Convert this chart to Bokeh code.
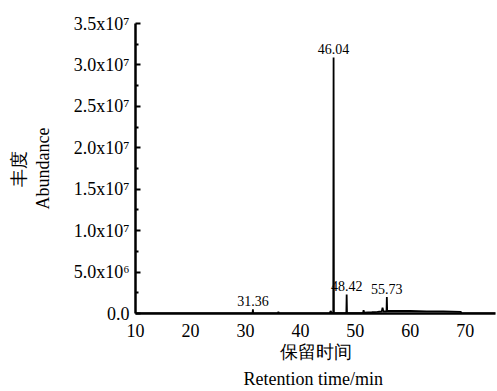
from bokeh.plotting import figure
from bokeh.models import Range1d, FixedTicker, ColumnDataSource
from bokeh.embed import file_html
from bokeh.resources import INLINE
from bokeh.core.properties import value

# Chromatogram trace (retention time in min, abundance)
rt = [10.0, 20.0, 30.0, 31.30, 31.36, 31.42, 35.9, 36.0, 36.1, 45.3, 45.5, 45.7,
      45.98, 46.04, 46.10, 48.36, 48.42, 48.48, 51.4, 51.5, 51.6, 53.0, 54.0,
      54.8, 54.95, 55.1, 55.67, 55.73, 55.79, 57.0, 60.0, 63.0, 66.0, 69.2, 69.3, 75.5]
abundance = [0.0, 0.0, 0.0, 0.0, 0.5e6, 0.0, 0.0, 0.2e6, 0.0, 0.0, 0.3e6, 0.05e6,
             0.05e6, 3.09e7, 0.05e6, 0.05e6, 2.3e6, 0.05e6, 0.05e6, 0.4e6, 0.1e6, 0.15e6, 0.2e6,
             0.25e6, 0.7e6, 0.25e6, 0.25e6, 2.0e6, 0.3e6, 0.3e6, 0.3e6, 0.25e6, 0.25e6, 0.2e6, 0.0, 0.0]

# Peak annotations
peak_labels = ["31.36", "46.04", "48.42", "55.73"]
peak_rt = [31.36, 46.04, 48.42, 55.73]
peak_h = [0.5e6, 3.09e7, 2.3e6, 2.0e6]

x_ticks = [10, 20, 30, 40, 50, 60, 70]
y_ticks = [0, 5000000, 10000000, 15000000, 20000000, 25000000, 30000000, 35000000]
y_tick_labels = ["0.0", "5.0x10\u2076", "1.0x10\u2077", "1.5x10\u2077", "2.0x10\u2077",
                 "2.5x10\u2077", "3.0x10\u2077", "3.5x10\u2077"]

FONT = "Liberation Serif"

p = figure(width=497, height=391, output_backend="svg", toolbar_location=None,
           x_range=Range1d(10, 75.5), y_range=Range1d(0, 3.5e7),
           min_border_left=135, min_border_right=2, min_border_top=23, min_border_bottom=70)
p.outline_line_color = None
p.xgrid.visible = False
p.ygrid.visible = False
p.background_fill_color = "white"

p.line(rt, abundance, line_color="black", line_width=1.8)

src = ColumnDataSource(dict(x=peak_rt, y=peak_h, t=peak_labels))
p.text(x="x", y="y", text="t", source=src, text_align="center", text_baseline="bottom",
       y_offset=-3, text_font=value(FONT), text_font_size="14px", text_color="black")

# x axis
xa = p.xaxis[0]
xa.ticker = FixedTicker(ticks=x_ticks)
xa.axis_line_width = 2.5
xa.axis_line_color = "black"
xa.major_tick_line_color = None
xa.minor_tick_line_color = None
xa.major_label_text_font = FONT
xa.major_label_text_font_size = "18px"
xa.major_label_text_color = "black"
xa.major_label_standoff = 4
xa.axis_label = "保留时间\nRetention  time/min"
xa.axis_label_text_font = FONT
xa.axis_label_text_font_size = "18px"
xa.axis_label_text_font_style = "normal"
xa.axis_label_text_color = "black"
xa.axis_label_text_line_height = 1.35
xa.axis_label_standoff = 2

# y axis
ya = p.yaxis[0]
ya.ticker = FixedTicker(ticks=y_ticks, minor_ticks=[t + 2500000 for t in y_ticks[:-1]])
ya.major_label_overrides = dict(zip(y_ticks, y_tick_labels))
ya.axis_line_width = 2.5
ya.axis_line_color = "black"
ya.major_tick_in = 5
ya.major_tick_out = 0
ya.major_tick_line_width = 2
ya.major_tick_line_color = "black"
ya.minor_tick_in = 3
ya.minor_tick_out = 0
ya.minor_tick_line_width = 2
ya.minor_tick_line_color = "black"
ya.major_label_text_font = FONT
ya.major_label_text_font_size = "18px"
ya.major_label_text_color = "black"
ya.major_label_standoff = 6
ya.axis_label = "丰度\nAbundance"
ya.axis_label_text_font = FONT
ya.axis_label_text_font_size = "18px"
ya.axis_label_text_font_style = "normal"
ya.axis_label_text_color = "black"
ya.axis_label_standoff = 18

open("out.html", "w").write(file_html(p, INLINE))
